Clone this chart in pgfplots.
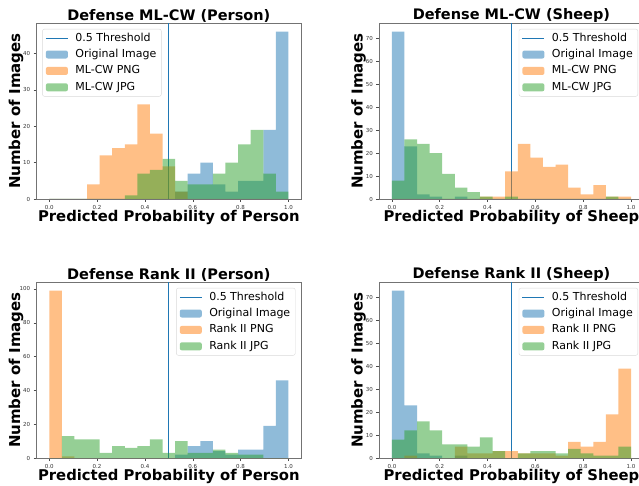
\documentclass[border=0pt]{standalone}
\usepackage{fontspec}
\setmainfont{DejaVu Sans}
\usepackage{pgfplots}
\usepackage{pgfplotstable}
\pgfplotsset{compat=1.18}
\definecolor{tblue}{HTML}{1F77B4}
\definecolor{torange}{HTML}{FF7F0E}
\definecolor{tgreen}{HTML}{2CA02C}

% columns: x (bin left edge), orig, png, jpg ; last row closes the final bin
\pgfplotstableread{
x        orig png jpg
0.000000 0  0  0
0.052632 0  0  0
0.105263 0  0  0
0.157895 0  4  0
0.210526 0  12 0
0.263158 0  14 0
0.315789 0  15 1
0.368421 0  26 7
0.421053 0  18 8
0.473684 0  9  11
0.526316 2  2  5
0.578947 7  0  4
0.631579 10 0  4
0.684211 4  0  7
0.736842 2  0  10
0.789474 5  0  15
0.842105 5  0  19
0.894737 19 0  7
0.947368 46 0  2
1.000000 46 0  2
}\tabA
\pgfplotstableread{
x        orig png jpg
0.000000 73 0  8
0.052632 23 0  26
0.105263 2  0  24
0.157895 1  0  20
0.210526 0  0  11
0.263158 1  0  5
0.315789 0  0  3
0.368421 0  1  1
0.421053 0  1  0
0.473684 0  12 1
0.526316 0  24 0
0.578947 0  18 0
0.631579 0  14 0
0.684211 0  15 0
0.736842 0  5  0
0.789474 0  2  0
0.842105 0  6  0
0.894737 0  1  1
0.947368 0  1  0
1.000000 0  1  0
}\tabB
\pgfplotstableread{
x        orig png jpg
0.000000 0  99 0
0.052632 0  1  13
0.105263 0  0  11
0.157895 0  0  11
0.210526 0  0  3
0.263158 0  0  7
0.315789 0  0  6
0.368421 0  0  7
0.421053 0  0  11
0.473684 0  0  3
0.526316 2  0  10
0.578947 7  0  3
0.631579 10 0  3
0.684211 4  0  5
0.736842 2  0  3
0.789474 5  0  2
0.842105 5  0  2
0.894737 19 0  0
0.947368 46 0  0
1.000000 46 0  0
}\tabC
\pgfplotstableread{
x        orig png jpg
0.000000 73 0  8
0.052632 23 1  12
0.105263 2  0  16
0.157895 1  0  12
0.210526 0  0  6
0.263158 1  5  6
0.315789 0  2  5
0.368421 0  2  9
0.421053 0  3  3
0.473684 0  3  0
0.526316 0  2  2
0.578947 0  2  3
0.631579 0  2  3
0.684211 0  1  2
0.736842 0  7  4
0.789474 0  5  2
0.842105 0  7  1
0.894737 0  19 1
0.947368 0  39 5
1.000000 0  39 5
}\tabD

\pgfplotsset{
  panel/.style={
    scale only axis, width=264.3pt, height=175.7pt,
    xmin=-0.0526, xmax=1.0526, ymin=0,
    xtick={0,0.2,0.4,0.6,0.8,1.0},
    xticklabels={0.0,0.2,0.4,0.6,0.8,1.0},
    tick label style={font=\fontsize{5.5}{6}\selectfont, color=black!80},
    /pgf/number format/assume math mode=true,
    tick align=outside, tick pos=left, major tick length=3pt,
    tick style={black!70, line width=0.5pt},
    axis line style={black!55, line width=0.8pt},
    title style={font=\fontsize{14.5}{16}\selectfont\bfseries, at={(0.5,1)}, anchor=south, yshift=-5.5pt, inner sep=0pt},
    xlabel style={font=\fontsize{14.8}{17}\selectfont\bfseries, at={(axis description cs:0.5,0)}, anchor=north, yshift=-11pt, inner sep=0pt},
    ylabel style={font=\fontsize{15}{17}\selectfont\bfseries, at={(axis description cs:-0.05,0.5)}, anchor=south, rotate=0, inner sep=0pt},
    legend style={font=\fontsize{11}{13}\selectfont, draw=black!15, rounded corners=2pt,
       inner xsep=3pt, inner ysep=2pt, row sep=2.4pt,
       nodes={inner sep=2pt, text height=8pt, text depth=2pt, anchor=west},
       /tikz/every odd column/.append style={column sep=5pt}},
    legend cell align=left,
  },
  thr/.style={tblue, line width=0.9pt,
     legend image code/.code={\draw[tblue, line width=0.9pt] (0pt,0pt) -- (22pt,0pt);}},
  hbar/.style={const plot mark left, draw=none, fill=#1, fill opacity=0.5,
     legend image code/.code={\fill[#1, fill opacity=0.5] (0pt,-4pt) rectangle (22pt,4pt);}},
}

\begin{document}
\begin{tikzpicture}
\path[use as bounding box] (0pt,0pt) rectangle (639pt,485pt);
\clip (0pt,0pt) rectangle (639pt,485pt);

% Panel 1
\begin{axis}[panel, at={(36.7pt,286pt)}, anchor=south west,
  ymax=48.3, ytick={0,10,20,30,40},
  title={Defense ML-CW (Person)},
  xlabel={Predicted Probability of Person}, ylabel={Number of Images},
  legend style={at={(axis description cs:0.021,0.968)}, anchor=north west}]
\addplot[thr] coordinates {(0.5,0) (0.5,48.3)};
\addplot[hbar=tblue] table[x=x,y=orig] {\tabA} \closedcycle;
\addplot[hbar=torange] table[x=x,y=png] {\tabA} \closedcycle;
\addplot[hbar=tgreen] table[x=x,y=jpg] {\tabA} \closedcycle;
\legend{0.5 Threshold, Original Image, ML-CW PNG, ML-CW JPG}
\end{axis}

% Panel 2
\begin{axis}[panel, at={(379.3pt,286pt)}, anchor=south west,
  ymax=76.65, ytick={0,10,20,30,40,50,60,70},
  title={Defense ML-CW (Sheep)},
  xlabel={Predicted Probability of Sheep}, ylabel={Number of Images},
  legend style={at={(axis description cs:0.979,0.968)}, anchor=north east}]
\addplot[thr] coordinates {(0.5,0) (0.5,76.65)};
\addplot[hbar=tblue] table[x=x,y=orig] {\tabB} \closedcycle;
\addplot[hbar=torange] table[x=x,y=png] {\tabB} \closedcycle;
\addplot[hbar=tgreen] table[x=x,y=jpg] {\tabB} \closedcycle;
\legend{0.5 Threshold, Original Image, ML-CW PNG, ML-CW JPG}
\end{axis}

% Panel 3
\begin{axis}[panel, at={(36.7pt,27pt)}, anchor=south west,
  ymax=103.95, ytick={0,20,40,60,80,100},
  title={Defense Rank II (Person)},
  xlabel={Predicted Probability of Person}, ylabel={Number of Images},
  legend style={at={(axis description cs:0.979,0.968)}, anchor=north east}]
\addplot[thr] coordinates {(0.5,0) (0.5,103.95)};
\addplot[hbar=tblue] table[x=x,y=orig] {\tabC} \closedcycle;
\addplot[hbar=torange] table[x=x,y=png] {\tabC} \closedcycle;
\addplot[hbar=tgreen] table[x=x,y=jpg] {\tabC} \closedcycle;
\legend{0.5 Threshold, Original Image, Rank II PNG, Rank II JPG}
\end{axis}

% Panel 4
\begin{axis}[panel, at={(379.3pt,27pt)}, anchor=south west,
  ymax=76.65, ytick={0,10,20,30,40,50,60,70},
  title={Defense Rank II (Sheep)},
  xlabel={Predicted Probability of Sheep}, ylabel={Number of Images},
  legend style={at={(axis description cs:0.979,0.968)}, anchor=north east}]
\addplot[thr] coordinates {(0.5,0) (0.5,76.65)};
\addplot[hbar=tblue] table[x=x,y=orig] {\tabD} \closedcycle;
\addplot[hbar=torange] table[x=x,y=png] {\tabD} \closedcycle;
\addplot[hbar=tgreen] table[x=x,y=jpg] {\tabD} \closedcycle;
\legend{0.5 Threshold, Original Image, Rank II PNG, Rank II JPG}
\end{axis}
\end{tikzpicture}
\end{document}
